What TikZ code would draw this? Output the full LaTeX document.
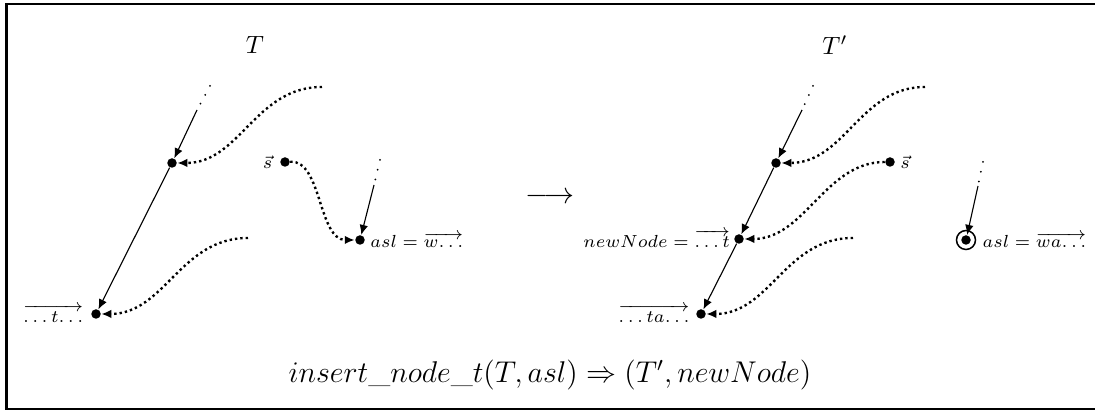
\documentclass[tikz,border=0pt]{standalone}
\usepackage{amsmath,amssymb}
\usepackage{tikz}
\usetikzlibrary{arrows.meta,positioning}
\tikzset{
  tnode/.style={circle,fill=black,inner sep=0pt,minimum size=3.8pt},
  ring/.style={circle,draw=black,line width=0.6pt,inner sep=0pt,minimum size=7.6pt},
  branch/.style={-{Latex[length=4pt,width=3.4pt]},line width=0.45pt},
  ptr/.style={-{Latex[length=4pt,width=3.4pt]},line width=0.95pt,dash pattern=on 0.95pt off 1.2pt},
  ell/.style={line width=0.8pt,dash pattern=on 0pt off 4pt,line cap=round},
  lbl/.style={font=\scriptsize,inner sep=0.8pt},
}
\newcommand{\tdots}{\ldotp\ldotp\ldotp}

\begin{document}
\begin{tikzpicture}[x=0.4pt,y=-0.4pt]
  \useasboundingbox (0,0) rectangle (1095,410);
  % frame
  \draw[line width=1pt] (6.7,4) rectangle (1097,409);

  % ---------- tree T ----------
  \node (tl) at (255,45) {$T$};
  \node[tnode] (lA) at (172,163) {};
  \node[tnode] (lB) at (96,314) {};
  \node[tnode] (lS) at (285,162) {};
  \node[tnode] (lAsl) at (360,240) {};
  \coordinate (lTop) at (210,86);
  \coordinate (lStem) at (197,110);
  \coordinate (lAslTop) at (380,160);
  \coordinate (lAslStem) at (374,185);
  \coordinate (lC1) at (322,87);
  \coordinate (lC2) at (248,238);

  \draw[ell] (lTop) -- (lStem);
  \draw[branch] (lStem) -- (lA);
  \draw[branch] (lA) -- (lB);
  \draw[ell] (lAslTop) -- (lAslStem);
  \draw[branch] (lAslStem) -- (lAsl);
  \draw[ptr] (lC1) .. controls (255,87) and (240,163) .. (lA);
  \draw[ptr] (lC2) .. controls (180,238) and (165,314) .. (lB);
  \draw[ptr] (lS) .. controls (322,160) and (318,240) .. (lAsl);

  \node[lbl,left=2pt of lS] (lSl) {$\vec{s}$};
  \node[lbl,left=2pt of lB] (lBl) {$\overrightarrow{\tdots t\tdots}$};
  \node[lbl,right=1pt of lAsl] (lAslL) {$asl = \overrightarrow{w\tdots}$};

  % ---------- step ----------
  \node[font=\large] (mapsto) at (550,198) {$\longrightarrow$};

  % ---------- tree T' ----------
  \node (tr) at (835,45) {$T'$};
  \node[tnode] (rA) at (776,163) {};
  \node[tnode] (rNew) at (739,239) {};
  \node[tnode] (rB) at (701,314) {};
  \node[tnode] (rS) at (890,162) {};
  \node[tnode] (rAsl) at (966,240) {};
  \node[ring] (rRing) at (rAsl) {};
  \coordinate (rTop) at (813,86);
  \coordinate (rStem) at (802,110);
  \coordinate (rAslTop) at (983,162);
  \coordinate (rAslStem) at (978,186);
  \coordinate (rC1) at (925,87);
  \coordinate (rC3) at (853,238);

  \draw[ell] (rTop) -- (rStem);
  \draw[branch] (rStem) -- (rA);
  \draw[branch] (rA) -- (rNew);
  \draw[branch] (rNew) -- (rB);
  \draw[ell] (rAslTop) -- (rAslStem);
  \draw[branch] (rAslStem) -- (rAsl);
  \draw[ptr] (rC1) .. controls (860,87) and (845,163) .. (rA);
  \draw[ptr] (rS) .. controls (825,162) and (805,239) .. (rNew);
  \draw[ptr] (rC3) .. controls (785,238) and (770,314) .. (rB);

  \node[lbl,right=1pt of rS] (rSl) {$\vec{s}$};
  \node[lbl,left=0.5pt of rNew] (rNewL) {$newNode = \overrightarrow{\tdots t}$};
  \node[lbl,left=1.5pt of rB] (rBl) {$\overrightarrow{\tdots ta\tdots}$};
  \node[lbl,right=1.5pt of rRing] (rAslL) {$asl = \overrightarrow{wa\tdots}$};

  % ---------- operation ----------
  \node[font=\large] (call) at (550,375) {$insert\_node\_t(T,asl) \Rightarrow (T',newNode)$};
\end{tikzpicture}
\end{document}
